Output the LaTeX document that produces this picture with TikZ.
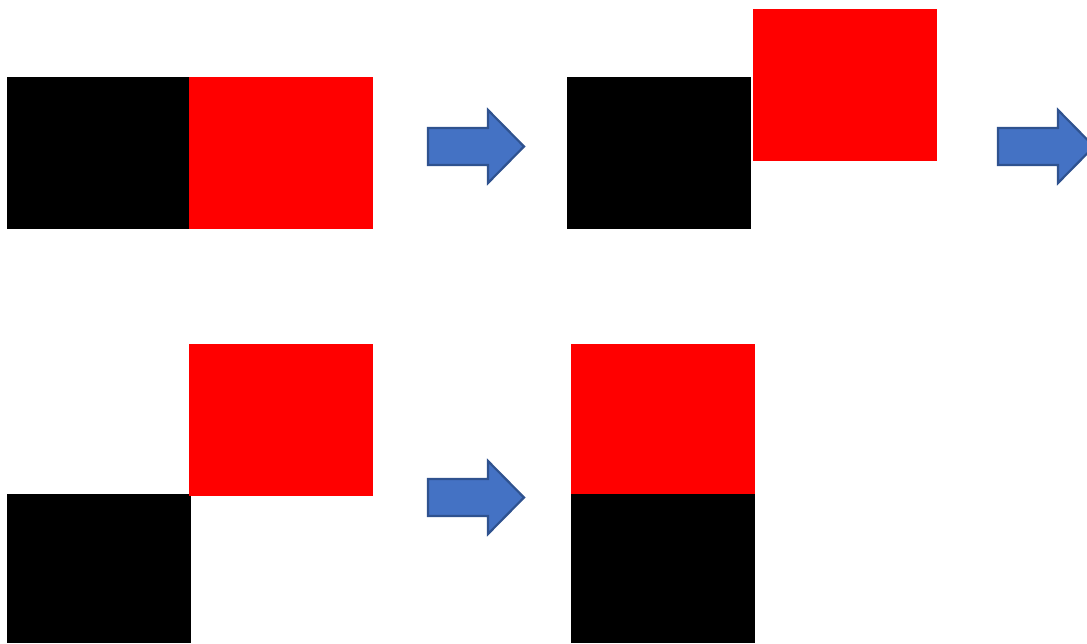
\documentclass[tikz,border=0pt]{standalone}
\begin{document}
\begin{tikzpicture}[x=1pt,y=-1pt,
  blk/.style={fill=black},
  rd/.style={fill=red},
  bluearrow/.style={fill={rgb,255:red,68;green,114;blue,196},draw={rgb,255:red,47;green,82;blue,143},line width=2.2pt,line join=miter}]
\useasboundingbox (0,0) rectangle (1087,643);
\clip (0,0) rectangle (1087,643);
% row 1, step 1
\fill[blk] (7,77) rectangle (189,229);
\fill[rd] (189,77) rectangle (373,229);
% arrow 1
\draw[bluearrow] (428,128) -- (488,128) -- (488,110) -- (524,146.5) -- (488,183) -- (488,165) -- (428,165) -- cycle;
% row 1, step 2
\fill[blk] (567,77) rectangle (751,229);
\fill[rd] (753,9) rectangle (937,161);
% arrow 2
\draw[bluearrow] (998,128) -- (1058,128) -- (1058,110) -- (1094,146.5) -- (1058,183) -- (1058,165) -- (998,165) -- cycle;
% row 2, step 3
\fill[blk] (7,494) rectangle (191,643);
\fill[rd] (189,344) rectangle (373,496);
% arrow 3
\draw[bluearrow] (428,479) -- (488,479) -- (488,461) -- (524,497.5) -- (488,534) -- (488,516) -- (428,516) -- cycle;
% row 2, step 4
\fill[rd] (571,344) rectangle (755,494);
\fill[blk] (571,494) rectangle (755,643);
\end{tikzpicture}
\end{document}
